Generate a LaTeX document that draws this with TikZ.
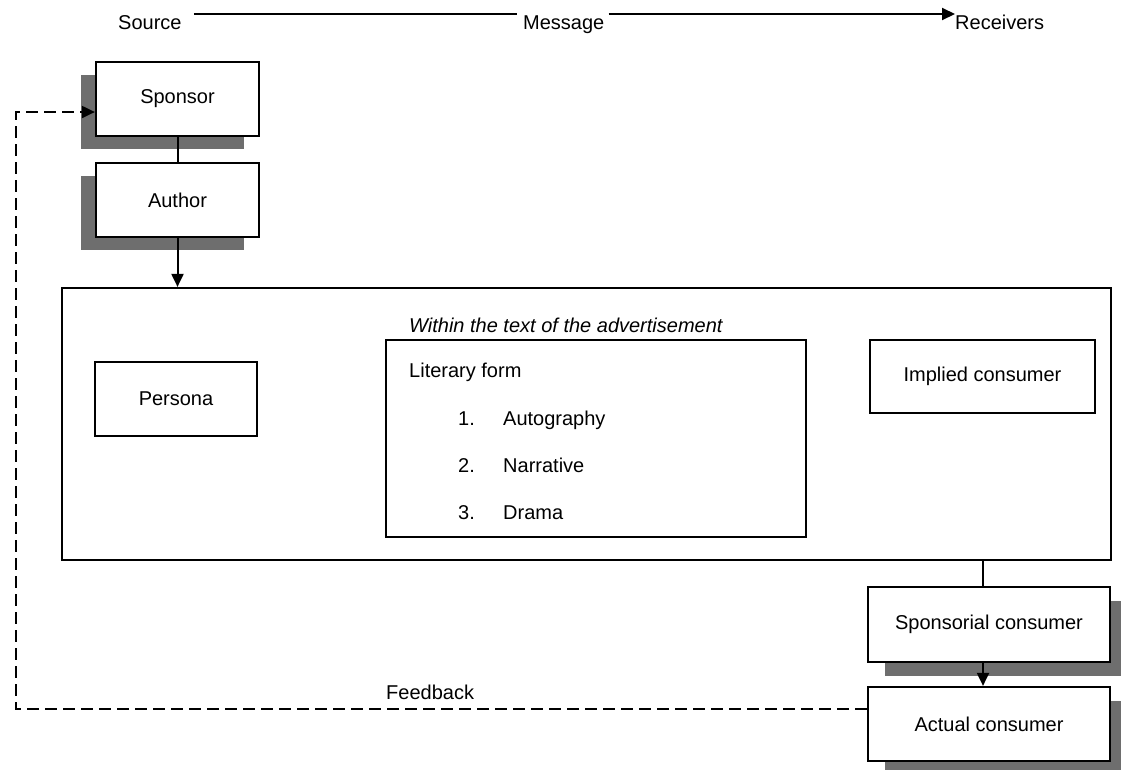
\documentclass[tikz,border=0pt]{standalone}
\usepackage{fontspec}
\setmainfont{Liberation Sans}
\usetikzlibrary{arrows.meta,shadows}
\definecolor{shadowgray}{HTML}{6E6E6E}
\begin{document}
\begin{tikzpicture}[x=1pt,y=-1pt,
  every node/.style={font=\fontsize{20}{24}\selectfont},
  box/.style={draw, line width=2.2pt, fill=white, inner sep=0pt, align=center},
  shadowleft/.style={drop shadow={shadow xshift=-15pt, shadow yshift=-13pt, fill=shadowgray, opacity=1}},
  shadowright/.style={drop shadow={shadow xshift=17pt, shadow yshift=-14pt, fill=shadowgray, opacity=1}},
  link/.style={line width=2pt},
  arrowlink/.style={line width=2pt, -{Triangle[length=13pt,width=12pt]}},
  feedback/.style={line width=2pt, dash pattern=on 12pt off 6pt, -{Triangle[length=13pt,width=12pt]}},
  label/.style={inner sep=0pt}
]
\useasboundingbox (0,0) rectangle (1121,769);

% source - message - receivers
\node[label, anchor=base west] (src) at (118,29) {Source};
\node[label, anchor=base west] (msg) at (523,29) {Message};
\node[label, anchor=base west] (rcv) at (955,29) {Receivers};
\draw[link] ([xshift=12pt]src.east |- 0,14) -- ([xshift=-6pt]msg.west |- 0,14);
\draw[arrowlink] ([xshift=4pt]msg.east |- 0,14) -- (rcv.west |- 0,14);

% source side
\node[box, shadowleft, minimum width=163pt, minimum height=74pt] (sponsor) at (177.5,99) {Sponsor};
\node[box, shadowleft, minimum width=163pt, minimum height=74pt] (author) at (177.5,200) {Author};
\draw[link] (sponsor.south) -- (author.north);

% text of the advertisement
\node[box, fill=none, minimum width=1049pt, minimum height=272pt] (big) at (586.5,424) {};
\node[label, anchor=base west, font=\fontsize{20}{24}\selectfont\itshape] (within) at (409,332) {Within the text of the advertisement};
\node[box, minimum width=162pt, minimum height=74pt] (persona) at (176,399) {Persona};
\node[box, minimum width=420pt, minimum height=197pt] (lit) at (596,438.5) {};
\node[box, minimum width=225pt, minimum height=73pt] (impl) at (982.5,376.5) {Implied consumer};

\node[label, anchor=base west] (litform) at (409,377) {Literary form};
\node[label, anchor=base west] (n1) at (458,425) {1.};
\node[label, anchor=base west] (i1) at (503,425) {Autography};
\node[label, anchor=base west] (n2) at (458,472) {2.};
\node[label, anchor=base west] (i2) at (503,472) {Narrative};
\node[label, anchor=base west] (n3) at (458,519) {3.};
\node[label, anchor=base west] (i3) at (503,519) {Drama};

\draw[arrowlink] (author.south) -- (author.south |- big.north);

% receiver side
\node[box, shadowright, minimum width=242pt, minimum height=75pt] (spons) at (989,624.5) {Sponsorial consumer};
\node[box, shadowright, minimum width=242pt, minimum height=74pt] (actual) at (989,724) {Actual consumer};
\draw[link] ([xshift=-6pt]spons.north |- big.south) -- ([xshift=-6pt]spons.north);
\draw[arrowlink] ([xshift=-6pt]spons.south) -- ([xshift=-6pt]actual.north);

% feedback loop
\coordinate (fbtop) at (16,112);
\coordinate (fbbot) at (16,709);
\draw[feedback] (fbbot -| actual.west) -- (fbbot) -- (fbtop) -- (fbtop -| sponsor.west);
\node[label, anchor=base west] (fblabel) at (386,699) {Feedback};
\end{tikzpicture}
\end{document}
